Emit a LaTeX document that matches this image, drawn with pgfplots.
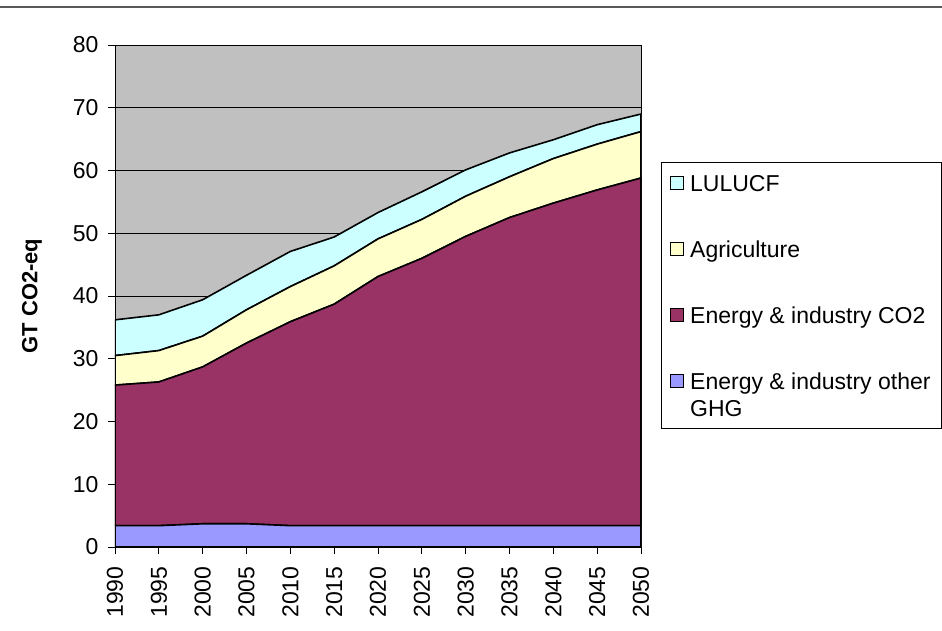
\documentclass[border=0pt]{standalone}
\usepackage{fontspec}
\setmainfont{Liberation Sans}
\usepackage{pgfplots}
\usepackage{pgfplotstable}
\pgfplotsset{compat=1.18}
\definecolor{bggray}{HTML}{C0C0C0}
\definecolor{lulucf}{HTML}{CCFFFF}
\definecolor{agri}{HTML}{FFFFCC}
\definecolor{eco}{HTML}{993366}
\definecolor{eoth}{HTML}{9999FF}
\pgfplotstableread{
year other co2 agri lulucf
1990 3.4 22.4 4.7 5.7
1995 3.4 22.9 5.0 5.7
2000 3.7 25.0 4.9 5.8
2005 3.7 28.8 5.3 5.5
2010 3.4 32.5 5.6 5.6
2015 3.4 35.3 6.1 4.6
2020 3.4 39.7 6.0 4.2
2025 3.4 42.6 6.2 4.4
2030 3.4 46.1 6.4 4.2
2035 3.4 49.1 6.5 3.8
2040 3.4 51.4 7.1 3.0
2045 3.4 53.5 7.3 3.1
2050 3.4 55.4 7.4 2.8
}\datatable
\begin{document}
\begin{tikzpicture}
\useasboundingbox (-115pt,-84pt) rectangle (827pt,547pt);
\draw[gray!70!black, line width=1.5pt] (-115pt,540pt) -- (827pt,540pt);
\begin{axis}[
  scale only axis,
  width=526pt, height=502pt,
  xmin=1990, xmax=2050, ymin=0, ymax=80,
  xtick={1990,1995,...,2050},
  ytick={0,10,...,80},
  xtick pos=bottom, ytick pos=left,
  tick align=outside,
  major tick length=7pt,
  tick style={black, line width=0.8pt},
  /pgf/number format/assume math mode=true,
  x tick label style={/pgf/number format/1000 sep={}, rotate=90, anchor=east, font=\fontsize{23}{27}\selectfont, xshift=-9pt},
  y tick label style={font=\fontsize{23}{27}\selectfont, xshift=-6pt},
  ymajorgrids,
  grid style={black, line width=0.8pt},
  axis background/.style={fill=bggray},
  axis line style={black, line width=0.8pt},
  stack plots=y,
  ylabel={GT CO2-eq},
  ylabel style={font=\fontsize{22}{26}\selectfont\bfseries, at={(axis description cs:-0.158,0.5)}, anchor=center},
  reverse legend,
  legend cell align=left,
  legend image code/.code={\draw[#1, draw=black, line width=0.8pt] (0pt,1.5pt) rectangle (13pt,14.5pt);},
  legend style={draw=black, line width=0.8pt, at={(1.038,0.767)}, anchor=north west,
    font=\fontsize{23}{27}\selectfont, row sep=35pt, column sep=4pt, inner xsep=9pt, inner ysep=2pt,
    nodes={anchor=base west, inner sep=2pt, text depth=}},
]
\addplot[draw=black, line width=1.6pt, fill=eoth] table[x=year, y=other] {\datatable} \closedcycle;
\addlegendentry{\begin{tabular}[t]{@{}l@{}}Energy \& industry other\\GHG\end{tabular}}
\addplot[draw=black, line width=1.6pt, fill=eco] table[x=year, y=co2] {\datatable} \closedcycle;
\addlegendentry{\strut Energy \& industry CO2}
\addplot[draw=black, line width=1.6pt, fill=agri] table[x=year, y=agri] {\datatable} \closedcycle;
\addlegendentry{\strut Agriculture}
\addplot[draw=black, line width=1.6pt, fill=lulucf] table[x=year, y=lulucf] {\datatable} \closedcycle;
\addlegendentry{\rule{0pt}{25pt}\strut LULUCF}
\end{axis}
\end{tikzpicture}
\end{document}
